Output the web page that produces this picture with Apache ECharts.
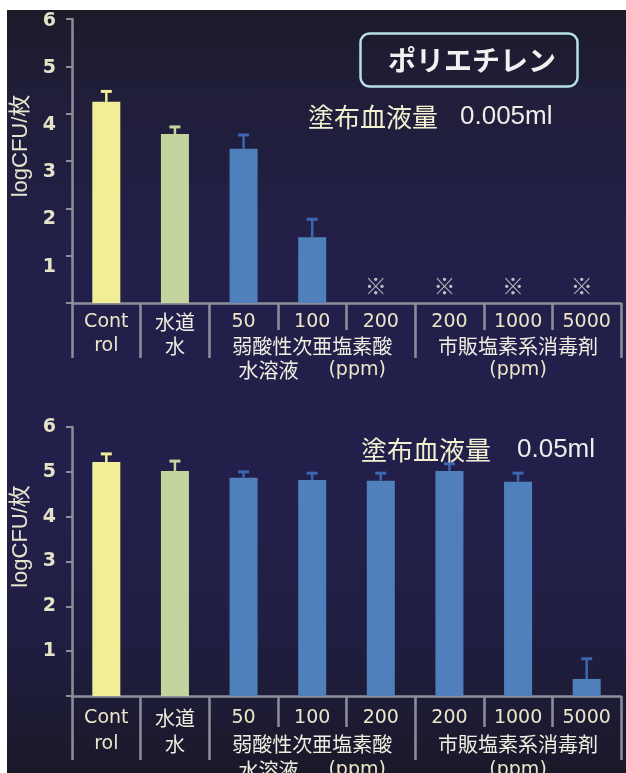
<!DOCTYPE html>
<html><head><meta charset="utf-8">
<script src="https://cdn.jsdelivr.net/npm/echarts@6/dist/echarts.min.js"></script>
<style>
html,body{margin:0;padding:0;background:#fff;width:626px;height:773px;overflow:hidden}
#c{position:absolute;left:7px;top:10px;width:619px;height:763px;
background:linear-gradient(to bottom,#1c1b2a 0%,#201e3a 12%,#22204a 35%,#22204a 62%,#201e42 82%,#1a1929 100%);}
</style></head><body><div id="c"></div>
<script>
// ---- data ----
const categories = ['Control', '水道水', '弱酸50', '弱酸100', '弱酸200', '市販200', '市販1000', '市販5000'];
const tickLabels = ['Cont\nrol', '水道\n水', '50', '100', '200', '200', '1000', '5000'];
const groupLabels = ['', '', '', '弱酸性次亜塩素酸\n水溶液　(ppm)', '', '', '市販塩素系消毒剤\n(ppm)', ''];
const topValues = [4.25, 3.57, 3.26, 1.39, null, null, null, null];
const topErrors = [0.22, 0.15, 0.29, 0.38, null, null, null, null];
const topMarks = ['', '', '', '', '※', '※', '※', '※'];
const bottomValues = [5.22, 5.02, 4.87, 4.82, 4.80, 5.02, 4.78, 0.38];
const bottomErrors = [0.18, 0.22, 0.13, 0.15, 0.17, 0.16, 0.19, 0.45];
const groupStarts = [0, 1, 2, 5];
const titleText = 'ポリエチレン';
const topSubtitle = ['塗布血液量', '0.005ml'];
const bottomSubtitle = ['塗布血液量', '0.05ml'];
const yAxisName = 'logCFU/枚';

// ---- styles ----
const CJK = '"Noto Sans CJK JP", sans-serif';
const NUM = '"DejaVu Sans", "Noto Sans CJK JP", sans-serif';
const barColors = ['#f2ee98', '#c4d49e', '#5080bb', '#5080bb', '#5080bb', '#5080bb', '#5080bb', '#5080bb'];
const errColors = ['#f2ee98', '#c4d49e', '#3d66b0', '#3d66b0', '#3d66b0', '#3d66b0', '#3d66b0', '#3d66b0'];
const axisGrey = '#8e8e9a';

const chart = echarts.init(document.getElementById('c'), null, {renderer: 'canvas'});

function xLabel(v, i) {
  const lines = tickLabels[i].split('\n').concat(groupLabels[i] ? groupLabels[i].split('\n') : []);
  return lines.map(line => line.split('　').map(part =>
    /[\u3000-\u9fff]/.test(part) ? '{c|' + part + '}' : '{n|' + part + '}').join('{sp|}')).join('\n');
}
function xRich(lh) {
  return {
    n: {fontFamily: NUM, fontSize: 19, color: '#ece6c8', lineHeight: lh},
    c: {fontFamily: CJK, fontSize: 20, color: '#efeee0', lineHeight: lh},
    sp: {width: 30, lineHeight: lh}
  };
}
function mainX(grid, margin, lh, tickLen) {
  return {
    type: 'category', gridIndex: grid, data: categories, position: 'bottom',
    axisLine: {show: true, onZero: false, lineStyle: {color: axisGrey, width: 2.5}},
    axisTick: {show: true, interval: 0, length: tickLen, lineStyle: {color: axisGrey, width: 2.5}},
    axisLabel: {show: true, interval: 0, margin: margin, verticalAlign: 'top', formatter: xLabel, rich: xRich(lh), hideOverlap: false},
    splitLine: {show: false}
  };
}
function groupX(grid, tickLen) {
  return {
    type: 'category', gridIndex: grid, data: categories, position: 'bottom', offset: 0,
    axisLine: {show: false, onZero: false},
    axisTick: {show: true, length: tickLen, interval: (i) => groupStarts.indexOf(i) >= 0, lineStyle: {color: axisGrey, width: 2.5}},
    axisLabel: {show: false},
    splitLine: {show: false}
  };
}
function yAx(grid, shiftLow, namePad) {
  const lab = {fontFamily: NUM, fontSize: 19, fontWeight: 'bold', color: '#e4e2c8', lineHeight: 20};
  return {
    type: 'value', gridIndex: grid, min: 0, max: 6, interval: 1,
    axisLine: {show: true, lineStyle: {color: axisGrey, width: 2.5}},
    axisTick: {show: true, length: 6, lineStyle: {color: axisGrey, width: 2}},
    splitLine: {show: false},
    axisLabel: {
      margin: 16,
      formatter: v => {
        if (v === 0) return '';
        if (!shiftLow) return '{t|' + v + '}';
        return (v <= 4 ? '{elo| }' : '{ehi| }') + '\n{t|' + v + '}';
      },
      rich: {
        t: lab,
        elo: {fontSize: 10, lineHeight: 22},
        ehi: {fontSize: 2, lineHeight: 4}
      }
    },
    name: yAxisName, nameLocation: 'middle', nameGap: 40,
    nameTextStyle: {fontFamily: '"Liberation Sans", "Noto Sans CJK JP", sans-serif', fontSize: 22, color: '#e6e4cc', padding: [0, 0, 0, namePad]}
  };
}
function errSeries(xi, yi, values, errors) {
  const data = [];
  values.forEach((v, i) => { if (v != null && errors[i] != null) data.push([i, v, errors[i]]); });
  return {
    type: 'custom', xAxisIndex: xi, yAxisIndex: yi, data: data, z: 3,
    renderItem: (params, api) => {
      const i = api.value(0), v = api.value(1), e = api.value(2);
      const p0 = api.coord([i, v]), p1 = api.coord([i, v + e]);
      const c = errColors[i];
      return {type: 'group', children: [
        {type: 'line', shape: {x1: p0[0], y1: p0[1], x2: p1[0], y2: p1[1]}, style: {stroke: c, lineWidth: 2.5}},
        {type: 'line', shape: {x1: p1[0] - 5.5, y1: p1[1], x2: p1[0] + 5.5, y2: p1[1]}, style: {stroke: c, lineWidth: 3}}
      ]};
    }
  };
}
function barSeries(xi, yi, values) {
  return {
    type: 'bar', xAxisIndex: xi, yAxisIndex: yi, barWidth: 28,
    data: values.map(v => v == null ? '-' : v),
    itemStyle: {color: p => barColors[p.dataIndex]},
    silent: true, animation: false
  };
}
function subRich(gap) {
  return {
    a: {fontFamily: CJK, fontSize: 26, fontWeight: 'normal', color: '#f3f0d2', lineHeight: 30},
    s: {width: gap},
    b: {fontFamily: '"Liberation Sans", sans-serif', fontSize: 26, fontWeight: 'normal', color: '#eceeea', lineHeight: 30}
  };
}

const option = {
  animation: false,
  backgroundColor: 'transparent',
  title: [
    {text: titleText, left: 353, top: 23, borderColor: '#b6e0ea', borderWidth: 2.5, borderRadius: 9,
      padding: [11, 22, 11, 28],
      textStyle: {fontFamily: CJK, fontSize: 28, fontWeight: 'bold', color: '#f0f2f2', lineHeight: 32}},
    {text: '{a|' + topSubtitle[0] + '}{s|}{b|' + topSubtitle[1] + '}', left: 296, top: 87,
      textStyle: {fontWeight: 'normal', rich: subRich(22)}},
    {text: '{a|' + bottomSubtitle[0] + '}{s|}{b|' + bottomSubtitle[1] + '}', left: 349, top: 420,
      textStyle: {fontWeight: 'normal', rich: subRich(26)}}
  ],
  grid: [
    {left: 65, right: 5, top: 9, height: 284, containLabel: false, outerBoundsMode: 'none'},
    {left: 65, right: 5, top: 417, height: 269, containLabel: false, outerBoundsMode: 'none'}
  ],
  xAxis: [
    mainX(0, 7, 24, 27), groupX(0, 55),
    mainX(1, 9, 26, 31), groupX(1, 64)
  ],
  yAxis: [yAx(0, true, 30), yAx(1, false, 50)],
  series: [
    barSeries(0, 0, topValues),
    errSeries(0, 0, topValues, topErrors),
    {
      type: 'scatter', xAxisIndex: 0, yAxisIndex: 0, symbolSize: 1,
      itemStyle: {color: 'rgba(0,0,0,0)'},
      data: topMarks.map((m, i) => m ? {value: [i, 0], name: m} : null).filter(d => d),
      label: {show: true, position: 'top', distance: 6, offset: [-5, 0], formatter: '{b}', fontFamily: CJK, fontSize: 22, fontWeight: 'bold', color: '#e8e8e2'},
      silent: true
    },
    barSeries(2, 1, bottomValues),
    errSeries(2, 1, bottomValues, bottomErrors)
  ]
};
chart.setOption(option);
</script></body></html>
